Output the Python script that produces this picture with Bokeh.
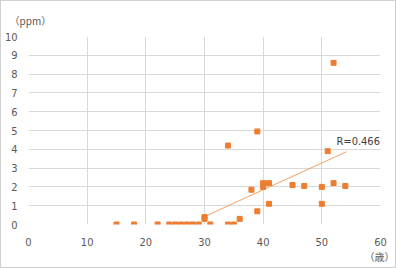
from bokeh.plotting import figure
from bokeh.models import ColumnDataSource, Label, FixedTicker, Title
from bokeh.embed import file_html
from bokeh.resources import INLINE

# data (age in years, concentration in ppm)
age = [15, 18, 22, 24, 25, 26, 27, 28, 29, 30, 30, 31, 34, 34, 35, 36, 38,
       39, 39, 40, 40, 41, 41, 45, 47, 50, 50, 51, 52, 52, 54]
ppm = [0, 0, 0, 0, 0, 0, 0, 0, 0, 0.3, 0.4, 0, 0, 4.2, 0, 0.3, 1.85,
       0.7, 4.95, 2.2, 2.0, 2.2, 1.1, 2.1, 2.05, 2.0, 1.1, 3.9, 2.2, 8.6, 2.05]
trend_x = [30, 54.2]
trend_y = [0.42, 3.87]
r_text = "R=0.466"
x_ticks = [0, 10, 20, 30, 40, 50, 60]
y_ticks = [0, 1, 2, 3, 4, 5, 6, 7, 8, 9, 10]

FONT = "DejaVu Sans Condensed"
GRAY = "#595959"

p = figure(width=396, height=268, output_backend="svg", toolbar_location=None,
           x_range=(0, 60), y_range=(0, 10),
           min_border_left=27, min_border_right=17, min_border_top=32, min_border_bottom=45)
p.styles = {"border": "1px solid #d0d0d0", "box-sizing": "border-box"}
p.outline_line_color = None
p.background_fill_color = "white"
p.border_fill_color = "white"

for ax in (p.xaxis, p.yaxis):
    ax.axis_line_color = None
    ax.major_tick_line_color = None
    ax.minor_tick_line_color = None
    ax.major_label_text_font = FONT
    ax.major_label_text_font_size = "11px"
    ax.major_label_text_color = GRAY
p.xaxis.ticker = FixedTicker(ticks=x_ticks)
p.yaxis.ticker = FixedTicker(ticks=y_ticks)
p.xaxis.major_label_standoff = 7
p.yaxis.major_label_standoff = 5

p.xgrid.ticker = FixedTicker(ticks=x_ticks)
p.ygrid.ticker = FixedTicker(ticks=y_ticks)
p.grid.grid_line_color = "#d9d9d9"
p.grid.grid_line_width = 1

p.line(trend_x, trend_y, line_color="#f4a065", line_width=1)

src = ColumnDataSource(dict(x=age, y=ppm))
p.scatter("x", "y", source=src, marker="square", size=5, fill_color="#ed7d31",
          line_color="#ed7d31")

p.add_layout(Label(x=56.2, y=4.4, text=r_text, text_align="center", text_baseline="middle",
                   text_font=FONT, text_font_size="11px", text_color="#404040"))

p.add_layout(Title(text="（ppm）", align="left", offset=-19, text_font="Noto Sans CJK JP",
                   text_font_size="10px", text_font_style="normal", text_color=GRAY,
                   standoff=18), "above")
p.add_layout(Title(text="（歳）", align="right", offset=-14, text_font="Noto Sans CJK JP",
                   text_font_size="10px", text_font_style="normal", text_color=GRAY,
                   standoff=-4), "below")

open("out.html", "w").write(file_html(p, INLINE))
